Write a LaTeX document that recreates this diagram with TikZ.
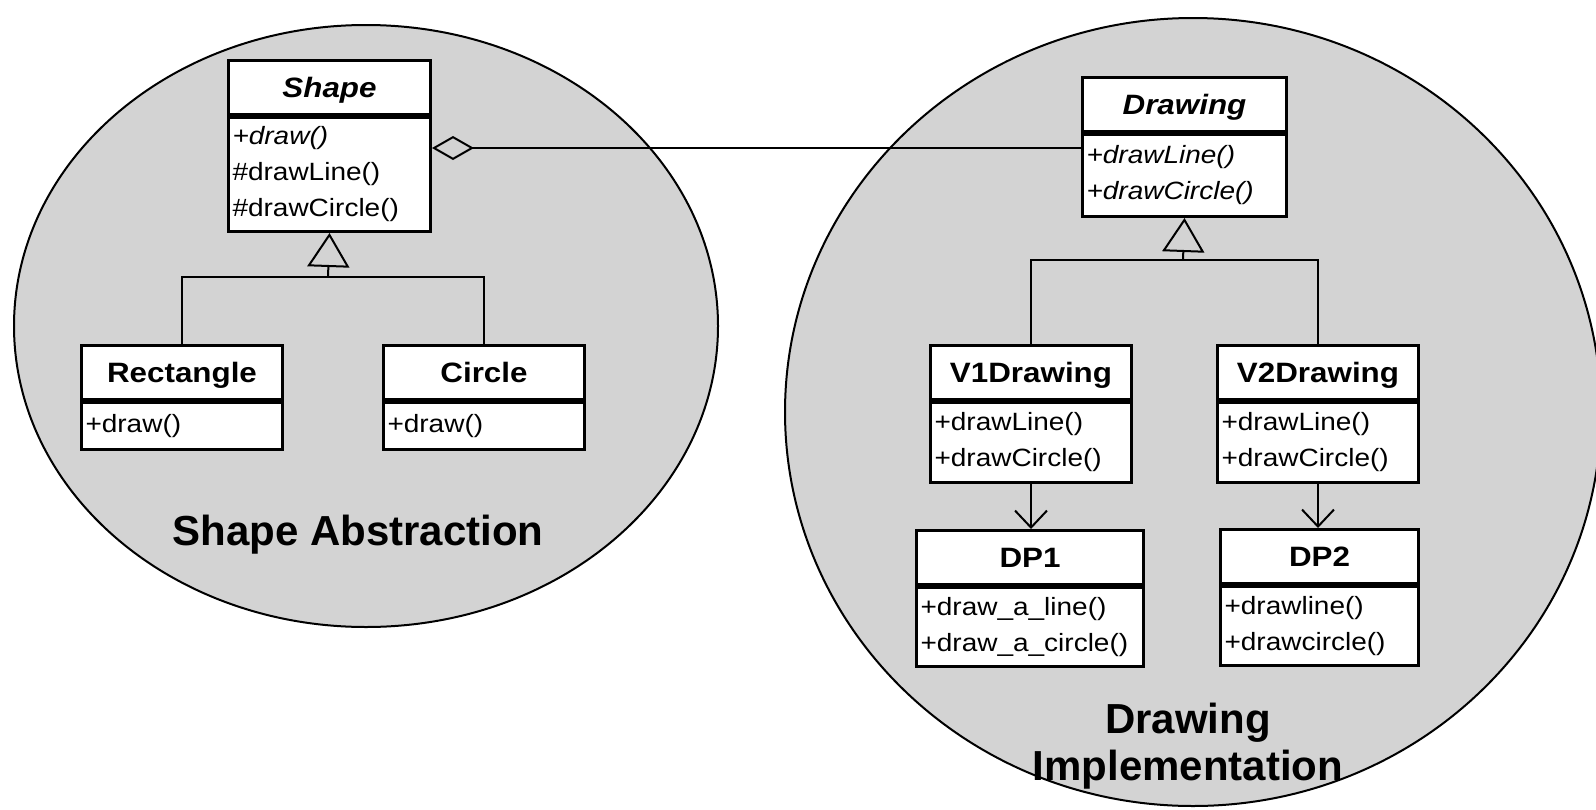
\documentclass[tikz,border=0pt]{standalone}
\usepackage{fontspec}
\setmainfont{Liberation Sans}
\newfontfamily\umlfont[FakeStretch=1.12]{Liberation Sans}
\usetikzlibrary{arrows.meta}
\definecolor{bubblegray}{RGB}{211,211,211}
\tikzset{
  bubble/.style={draw, line width=2pt, fill=bubblegray},
  classhead/.style={draw, fill=white, line width=3pt, anchor=north west, inner sep=0pt,
    text height=22pt, text depth=2pt,
    minimum width=#1, minimum height=54pt, font=\umlfont\fontsize{28}{30}\selectfont\bfseries},
  classbody/.style 2 args={draw, fill=white, line width=3pt, anchor=north, inner xsep=4pt, inner ysep=0pt,
    text width=#1, minimum height=#2, align=left, font=\umlfont\fontsize{25}{36}\selectfont},
  link/.style={line width=2pt},
  inherit/.style={link, -{Triangle[open, length=34pt, width=42pt, line width=2pt]}},
  uses/.style={link, -{Straight Barb[length=17pt, width=32pt, line width=2pt]}},
  aggregate/.style={link, {Diamond[open, length=42pt, width=24pt, line width=2pt]}-},
  bigtitle/.style={font=\fontsize{42}{47}\selectfont\bfseries, align=center}
}
\begin{document}
\begin{tikzpicture}[x=1pt,y=-1pt]
      \useasboundingbox (0,0) rectangle (1596,809);
      % the two regions
      \draw[bubble] (366,326) ellipse [x radius=352, y radius=301];
      \draw[bubble] (1193,412) ellipse [x radius=408, y radius=394];

      % abstraction side
      \node[classhead=202pt] (shapeHead) at (227,59) {\itshape Shape};
      \node[classbody={194pt}{114pt}] (shapeBody) at (shapeHead.south) {{\itshape +draw()}\\\#drawLine()\\\#drawCircle()};
      \node[classhead=201pt] (rectHead) at (80,344) {Rectangle};
      \node[classbody={193pt}{47pt}] (rectBody) at (rectHead.south) {+draw()};
      \node[classhead=201pt] (circHead) at (382,344) {Circle};
      \node[classbody={193pt}{47pt}] (circBody) at (circHead.south) {+draw()};

      % implementation side
      \node[classhead=204pt] (drawHead) at (1081,76) {\itshape Drawing};
      \node[classbody={196pt}{82pt}] (drawBody) at (drawHead.south) {\itshape +drawLine()\\+drawCircle()};
      \node[classhead=201pt] (vOneHead) at (929,344) {V1Drawing};
      \node[classbody={193pt}{80pt}] (vOneBody) at (vOneHead.south) {+drawLine()\\+drawCircle()};
      \node[classhead=201pt] (vTwoHead) at (1216,344) {V2Drawing};
      \node[classbody={193pt}{80pt}] (vTwoBody) at (vTwoHead.south) {+drawLine()\\+drawCircle()};
      \node[classhead=227pt] (dpOneHead) at (915,529) {DP1};
      \node[classbody={219pt}{79pt}] (dpOneBody) at (dpOneHead.south) {+draw\_a\_line()\\+draw\_a\_circle()};
      \node[classhead=198pt] (dpTwoHead) at (1219,528) {DP2};
      \node[classbody={190pt}{79pt}] (dpTwoBody) at (dpTwoHead.south) {+drawline()\\+drawcircle()};

      % connectors
      \coordinate (aggY) at (0,148);
      \draw[aggregate] (shapeBody.east |- aggY) -- (drawBody.west |- aggY);

      \coordinate (shapeBus) at (328,277);
      \draw[link] (rectHead.north) |- (shapeBus) -| (circHead.north);
      \draw[inherit] (shapeBus) -- (shapeBody.south);

      \coordinate (drawBus) at (1183,260);
      \draw[link] (vOneHead.north) |- (drawBus) -| (vTwoHead.north);
      \draw[inherit] (drawBus) -- (drawBody.south);

      \draw[uses] (vOneBody.south) -- (vOneBody.south |- dpOneHead.north);
      \draw[uses] (vTwoBody.south) -- (vTwoBody.south |- dpTwoHead.north);

      % region labels
      \node[bigtitle, anchor=base] (absLabel) at (358,545) {Shape Abstraction};
      \node[bigtitle, anchor=base] (implLabel) at (1188,780) {Drawing\\Implementation};
\end{tikzpicture}
\end{document}
